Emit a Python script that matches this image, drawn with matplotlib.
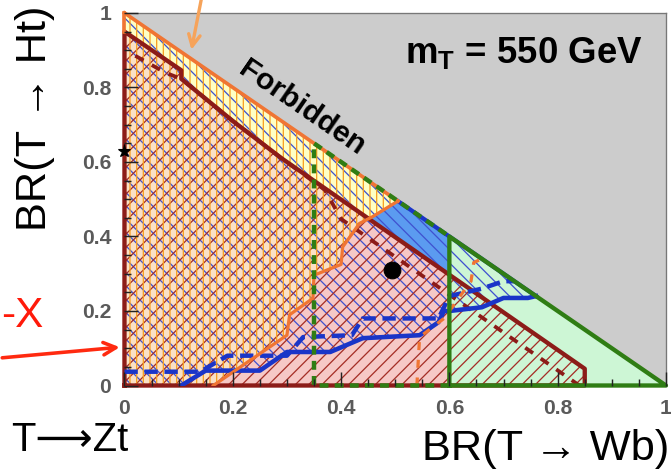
import numpy as np
import matplotlib
matplotlib.use("Agg")
import matplotlib.pyplot as plt
from matplotlib.ticker import MultipleLocator

plt.rcParams['font.family'] = ['Liberation Sans', 'DejaVu Sans']
plt.rcParams['mathtext.fontset'] = 'custom'
plt.rcParams['mathtext.rm'] = 'Liberation Sans'
plt.rcParams['mathtext.bf'] = 'Liberation Sans:bold'
plt.rcParams['hatch.linewidth'] = 1.15

# limit contours (x = BR(T->Wb), y = BR(T->Ht))
orange_x = [0.164, 0.30, 0.305, 0.348, 0.35, 0.40, 0.403, 0.434, 0.458, 0.505]
orange_y = [0.0, 0.135, 0.19, 0.234, 0.296, 0.325, 0.372, 0.435, 0.453, 0.495]

orange_dash_x = [0.54, 0.545, 0.59, 0.64, 0.645, 0.66]
orange_dash_y = [0.0, 0.13, 0.18, 0.28, 0.33, 0.34]

blue_x = [0.105, 0.15, 0.25, 0.30, 0.38, 0.44, 0.545, 0.58, 0.59, 0.60, 0.66, 0.70, 0.745, 0.76]
blue_y = [0.0, 0.04, 0.04, 0.09, 0.09, 0.127, 0.135, 0.17, 0.20, 0.20, 0.21, 0.235, 0.235, 0.24]

blue_dash_x = [0.0, 0.14, 0.19, 0.30, 0.33, 0.42, 0.44, 0.58, 0.60, 0.66, 0.70, 0.72]
blue_dash_y = [0.037, 0.037, 0.08, 0.08, 0.13, 0.135, 0.18, 0.18, 0.24, 0.26, 0.28, 0.28]

maroon_x = [0.0, 0.0, 0.105, 0.105, 0.20, 0.29, 0.85, 0.85]
maroon_y = [0.0, 0.95, 0.846, 0.823, 0.71, 0.61, 0.045, 0.0]

maroon_dash_x = [0.02, 0.075, 0.105, 0.20, 0.29, 0.37, 0.40, 0.84]
maroon_dash_y = [0.885, 0.84, 0.823, 0.71, 0.61, 0.525, 0.447, 0.0]

green_dash_x = [0.6, 0.35, 0.35, 0.6]
green_dash_y = [0.0, 0.0, 0.65, 0.4]

green_x = [0.6, 0.6, 1.0, 0.6]
green_y = [0.0, 0.4, 0.0, 0.0]

point_x, point_y = 0.494, 0.31
star_y = 0.63

ticks = [0, 0.2, 0.4, 0.6, 0.8, 1]
tick_labels = ["0", "0.2", "0.4", "0.6", "0.8", "1"]

# colours
c_gray = "#cccccc"
c_blue_fill = "#5b9bf0"
c_yellow = "#ffffc4"
c_pink = "#f6c8c6"
c_green_fill = "#cdf6d5"
c_maroon = "#8c1c18"
c_blue = "#1a35c8"
c_orange = "#f07533"
c_green = "#2f7d14"

fig = plt.figure(figsize=(671 / 80, 474 / 80), dpi=80)
ax = fig.add_axes([0.1855, 0.1867, 0.807, 0.786])
ax.set_xlim(0, 1)
ax.set_ylim(0, 1)

# forbidden area
ax.fill([0, 1, 1], [1, 1, 0], color=c_gray, lw=0, zorder=0.5)

# region polygons
blue_px = [0.0] + blue_x + [0.0]
blue_py = [0.0] + blue_y + [1.0]
orange_px = [0.0] + orange_x + [0.0]
orange_py = [0.0] + orange_y + [1.0]

ax.fill(blue_px, blue_py, color=c_blue_fill, lw=0, zorder=1)
ax.fill(orange_px, orange_py, color=c_yellow, lw=0, zorder=1.1)
ax.fill(maroon_x, maroon_y, color=c_pink, lw=0, zorder=1.2)
ax.fill(orange_px, orange_py, color=c_yellow, alpha=0.45, lw=0, zorder=1.25)
ax.fill(green_x, green_y, color=c_green_fill, lw=0, zorder=1.3)

# hatches
ax.fill(blue_px, blue_py, facecolor="none", edgecolor="#3f52d0", hatch="\\\\", lw=0, zorder=1.5)
ax.fill(maroon_x, maroon_y, facecolor="none", edgecolor="#a52e26", hatch="//", lw=0, zorder=1.6)
ax.fill(orange_px, orange_py, facecolor="none", edgecolor="#f7a020", hatch="||", lw=0, zorder=1.7)

# contour lines
ax.plot(maroon_dash_x, maroon_dash_y, color=c_maroon, lw=3.4, ls=(0, (2.5, 2.5)), zorder=2.9)
ax.plot(maroon_x + [0.0], maroon_y + [0.0], color=c_maroon, lw=3.9, zorder=3, clip_on=False)
ax.plot(blue_x, blue_y, color=c_blue, lw=4.1, zorder=3.2)
ax.plot([0.505, 0.76], [0.495, 0.24], color=c_blue, lw=3.8, zorder=3.2)
ax.plot(blue_dash_x, blue_dash_y, color=c_blue, lw=4.0, ls=(0, (3, 1.5)), zorder=3.2)
ax.plot(orange_x, orange_y, color=c_orange, lw=2.9, zorder=3.4)
ax.plot([0.0, 0.505], [1.0, 0.495], color=c_orange, lw=3.3, zorder=3.4, clip_on=False)
ax.plot([0.0, 0.0], [0.95, 1.0], color=c_orange, lw=3.3, zorder=3.4, clip_on=False)
ax.plot(orange_dash_x, orange_dash_y, color=c_orange, lw=2.9, ls=(0, (2.5, 3)), zorder=3.4)
ax.plot(green_dash_x, green_dash_y, color=c_green, lw=4.0, ls=(0, (2, 1.4)), zorder=3.6, clip_on=False)
ax.plot(green_x, green_y, color=c_green, lw=3.9, zorder=3.8, clip_on=False)

# markers
ax.plot(point_x, point_y, "o", color="black", ms=15, zorder=5)
ax.plot(0, star_y, "*", color="black", ms=12, zorder=5, clip_on=False)

# texts inside the plot
ax.text(0.327, 0.744, "Forbidden", rotation=-34.5, ha="center", va="center",
        fontsize=27, fontweight="bold", zorder=6)
ax.text(0.957, 0.865, r"$\mathbf{m_T}$ = 550 GeV", ha="right", va="baseline",
        fontsize=33, fontweight="bold", zorder=6)

# axes styling
ax.set_xticks(ticks)
ax.set_xticklabels(tick_labels)
ax.set_yticks(ticks)
ax.set_yticklabels(tick_labels)
ax.xaxis.set_minor_locator(MultipleLocator(0.05))
ax.yaxis.set_minor_locator(MultipleLocator(0.05))
ax.tick_params(which="both", direction="in", top=False, right=False, width=1.3, color="#222222")
ax.tick_params(which="major", length=13, pad=12, labelsize=19, labelcolor="#5a5a5a")
ax.tick_params(which="minor", length=6)
for lab in ax.get_xticklabels() + ax.get_yticklabels():
    lab.set_fontweight("bold")
ax.xaxis.set_zorder(4)
ax.yaxis.set_zorder(4)
for side in ["top", "right"]:
    ax.spines[side].set_color("#777777")
    ax.spines[side].set_linewidth(1.2)
for side in ["left", "bottom"]:
    ax.spines[side].set_visible(False)

# axis titles and slide annotations
fig.text(0.998, 0.0295, "BR(T \u2192 Wb)", ha="right", va="baseline", fontsize=39)
fig.text(0.052, 0.75, "BR(T \u2192 Ht)", ha="center", va="center", rotation=90, fontsize=39)
fig.text(0.104, 0.072, "T\u27f6Zt", ha="center", va="center", fontsize=36)
fig.text(0.064, 0.333, "-X", ha="right", va="center", fontsize=38, color="#ff1a0a")

fig.add_artist(matplotlib.patches.FancyArrowPatch(
    (0 / 671, 1 - 358 / 474), (122 / 671, 1 - 347 / 474), transform=fig.transFigure,
    arrowstyle="->", mutation_scale=28, lw=3.2, color="#ff2a10"))
fig.add_artist(matplotlib.patches.FancyArrowPatch(
    (203 / 671, 1.02), (191 / 671, 1 - 52 / 474), transform=fig.transFigure,
    arrowstyle="->", mutation_scale=26, lw=3.0, color="#f6a35a"))

fig.savefig("out.png", dpi=80)
